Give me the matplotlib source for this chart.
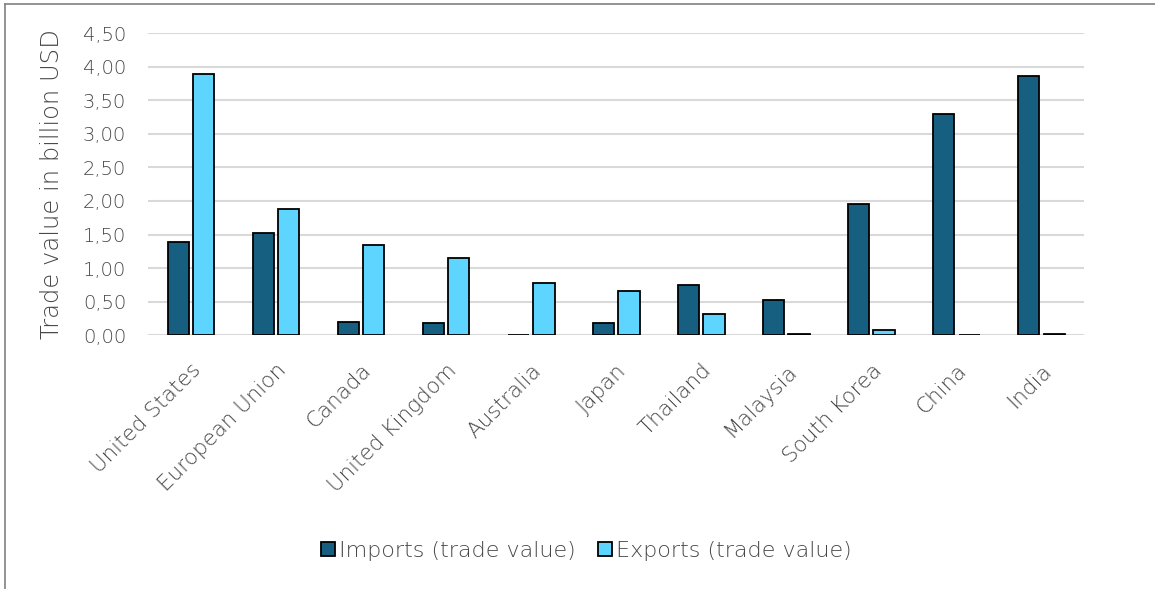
import matplotlib
matplotlib.use("Agg")
import matplotlib.pyplot as plt
import numpy as np
from matplotlib.lines import Line2D
from matplotlib.ticker import FuncFormatter

countries = ["United States", "European Union", "Canada", "United Kingdom", "Australia",
             "Japan", "Thailand", "Malaysia", "South Korea", "China", "India"]
imports = [1.39, 1.53, 0.19, 0.18, 0.004, 0.18, 0.75, 0.52, 1.96, 3.29, 3.87]
exports = [3.89, 1.88, 1.35, 1.15, 0.77, 0.66, 0.32, 0.01, 0.07, 0.004, 0.02]

IMP_COLOR = "#175f80"
EXP_COLOR = "#5dd5ff"
TEXT = "#474747"
GRID = "#d9d9d9"

plt.rcParams["font.family"] = ["DejaVu Sans"]
plt.rcParams["font.weight"] = "light"
plt.rcParams["axes.labelweight"] = "light"

fig = plt.figure(figsize=(11.55, 5.89), dpi=100)
ax = fig.add_axes([0.1285, 0.431, 0.81, 0.5125])

x = np.arange(len(countries))
w = 0.25
off = 0.15
ax.bar(x - off, imports, w, color=IMP_COLOR, edgecolor="black", linewidth=1.3,
       label="Imports (trade value)", zorder=3)
ax.bar(x + off, exports, w, color=EXP_COLOR, edgecolor="black", linewidth=1.3,
       label="Exports (trade value)", zorder=3)

ax.set_xlim(-0.5, len(countries) - 0.5)
ax.set_ylim(0, 4.5)
ax.set_yticks(np.arange(0, 4.51, 0.5))
ax.yaxis.set_major_formatter(FuncFormatter(lambda v, _: f"{v:.2f}".replace(".", ",")))
ax.grid(axis="y", color=GRID, linewidth=1.5, zorder=0)
ax.set_axisbelow(True)
for s in ax.spines.values():
    s.set_visible(False)
ax.tick_params(axis="both", length=0, colors=TEXT)
ax.tick_params(axis="y", pad=16, labelsize=14)

ax.set_xticks(x)
ax.set_xticklabels(countries, rotation=45, ha="right", rotation_mode="anchor", fontsize=15.5)
ax.tick_params(axis="x", pad=18)

ax.set_ylabel("Trade value in billion USD", color=TEXT, fontsize=17.5, labelpad=14)

handles = [Line2D([0], [0], marker="s", linestyle="none", markerfacecolor=c,
                  markeredgecolor="black", markersize=9.5, markeredgewidth=1.3)
           for c in (IMP_COLOR, EXP_COLOR)]
leg = fig.legend(handles, ["Imports (trade value)", "Exports (trade value)"],
                 loc="center", bbox_to_anchor=(0.506, 0.0645), ncol=2, frameon=False,
                 fontsize=16, handletextpad=0.0, columnspacing=0.8, handlelength=1.0)
for t in leg.get_texts():
    t.set_color(TEXT)

# chart frame (top and left edges)
fig.add_artist(Line2D([5 / 1155, 1], [1 - 4 / 589, 1 - 4 / 589], color="#808080", linewidth=1.2))
fig.add_artist(Line2D([5 / 1155, 5 / 1155], [0, 1 - 4 / 589], color="#808080", linewidth=1.2))

fig.savefig("out.png", dpi=100)
